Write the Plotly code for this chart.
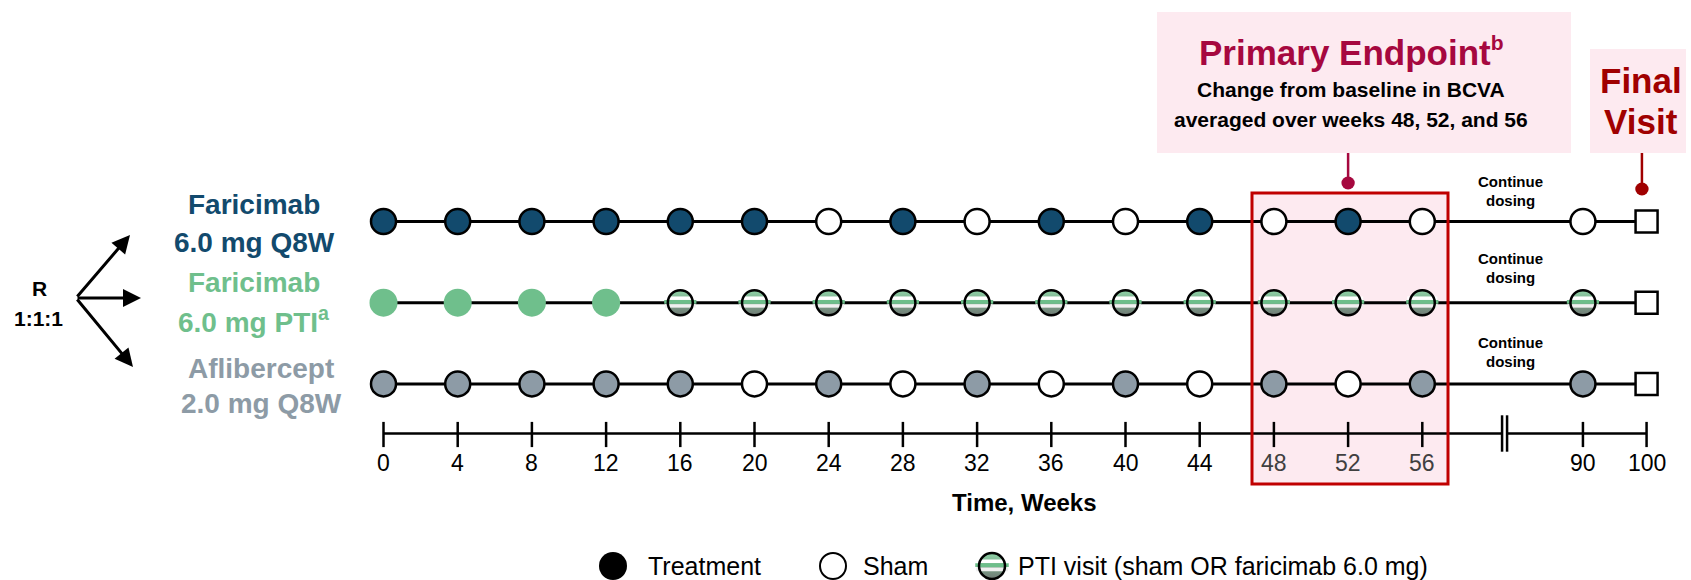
import plotly.graph_objects as go

# ---------------- data ----------------
VISIT_WEEKS = [0, 4, 8, 12, 16, 20, 24, 28, 32, 36, 40, 44, 48, 52, 56, 90]
FINAL_WEEK = 100
TICK_WEEKS = [0, 4, 8, 12, 16, 20, 24, 28, 32, 36, 40, 44, 48, 52, 56, 90, 100]
ENDPOINT_WEEKS = [48, 52, 56]

# visit type at each week: T = treatment, S = sham, P = PTI visit
ARM_Q8W = ["T", "T", "T", "T", "T", "T", "S", "T", "S", "T", "S", "T", "S", "T", "S", "S"]
ARM_PTI = ["T", "T", "T", "T", "P", "P", "P", "P", "P", "P", "P", "P", "P", "P", "P", "P"]
ARM_AFL = ["T", "T", "T", "T", "T", "S", "T", "S", "T", "S", "T", "S", "T", "S", "T", "T"]

ARM_LINE1 = ["Faricimab", "Faricimab", "Aflibercept"]
ARM_LINE2 = ["6.0 mg Q8W", "6.0 mg PTI<sup>a</sup>", "2.0 mg Q8W"]
LEGEND_LABELS = ["Treatment", "Sham", "PTI visit (sham OR faricimab 6.0 mg)"]

# ---------------- layout constants ----------------
W, H = 1691, 580
FONT = "Liberation Sans, Arial, sans-serif"
PX_PER_WEEK = 18.55
X0_PX = 383.5
ROW_PX = 81.2
ROW0_PX = 221.5
BREAK_POS = (60.3, 60.57)

ARM_COLORS = ["#124A6D", "#6FBF8C", "#8D9BA6"]
ARM_BORDER = [True, False, True]
PINK = "#FDEAF0"
BOX_RED = "#C00000"
ENDPOINT_RED = "#A6083F"
FINAL_RED = "#A00000"


def axis_pos(week):
    """Horizontal position of a week; weeks after the axis break are compressed."""
    if week <= 56:
        return week
    return 64.66 + (week - 90) * 0.343


def xpx(px):
    return (px - X0_PX) / PX_PER_WEEK


def ypx(py):
    return (py - ROW0_PX) / ROW_PX


def xp(px):
    return px / W


def yp(py):
    return 1 - py / H


fig = go.Figure()


def add_pti(xs, ys, size=25):
    """Striped PTI visit ball: gradient base, stripes, then outline."""
    fig.add_trace(go.Scatter(
        x=xs, y=ys, mode="markers", hoverinfo="skip", showlegend=False,
        marker=dict(symbol="circle", size=size, color="#8ED3A6",
                    gradient=dict(type="vertical", color="#6F7A74"),
                    line=dict(color="black", width=0))))
    k = size / 25.0
    stripes = [(-4.5, 3.5, 21.5, "#FFFFFF"), (-0.8, 3.6, 23, "#6DBE8A"), (3.2, 3.5, 22, "#F0F0F0")]
    for off, thick, length, col in stripes:
        fig.add_trace(go.Scatter(
            x=xs, y=[y + ypx(ROW0_PX + off * k) for y in ys], mode="markers",
            hoverinfo="skip", showlegend=False,
            marker=dict(symbol="line-ew-open", size=length * k, color=col,
                        line=dict(width=thick * k))))
    fig.add_trace(go.Scatter(
        x=xs, y=ys, mode="markers", hoverinfo="skip", showlegend=False,
        marker=dict(symbol="circle-open", size=size, color="black", line=dict(width=2.5))))


# row lines, visits and final-visit squares
for r, visits in enumerate([ARM_Q8W, ARM_PTI, ARM_AFL]):
    fig.add_trace(go.Scatter(
        x=[axis_pos(0), axis_pos(FINAL_WEEK)], y=[r, r], mode="lines",
        line=dict(color="black", width=3), hoverinfo="skip", showlegend=False))
    for kind in ["T", "S"]:
        xs = [axis_pos(w) for w, v in zip(VISIT_WEEKS, visits) if v == kind]
        if not xs:
            continue
        if kind == "T":
            col = ARM_COLORS[r]
            border = 2.5 if ARM_BORDER[r] else 0
            size = 25 if ARM_BORDER[r] else 28
        else:
            col, border, size = "white", 2.5, 25
        fig.add_trace(go.Scatter(
            x=xs, y=[r] * len(xs), mode="markers", hoverinfo="skip", showlegend=False,
            marker=dict(symbol="circle", size=size, color=col,
                        line=dict(color="black", width=border))))
    pti_x = [axis_pos(w) for w, v in zip(VISIT_WEEKS, visits) if v == "P"]
    if pti_x:
        add_pti(pti_x, [r] * len(pti_x))
    fig.add_trace(go.Scatter(
        x=[axis_pos(FINAL_WEEK)], y=[r], mode="markers", hoverinfo="skip", showlegend=False,
        marker=dict(symbol="square", size=22, color="white", line=dict(color="black", width=2.5))))

# time axis with break
AXIS_Y = ypx(433.5)
fig.add_trace(go.Scatter(
    x=[axis_pos(0), BREAK_POS[0], None, BREAK_POS[1], axis_pos(100)],
    y=[AXIS_Y, AXIS_Y, None, AXIS_Y, AXIS_Y], mode="lines",
    line=dict(color="black", width=2.5), hoverinfo="skip", showlegend=False))
fig.add_trace(go.Scatter(
    x=[axis_pos(w) for w in TICK_WEEKS], y=[AXIS_Y + ypx(ROW0_PX + 1)] * len(TICK_WEEKS),
    mode="markers", hoverinfo="skip", showlegend=False,
    marker=dict(symbol="line-ns-open", size=18, color="black", line=dict(width=2.5))))
fig.add_trace(go.Scatter(
    x=list(BREAK_POS), y=[AXIS_Y, AXIS_Y], mode="markers", hoverinfo="skip", showlegend=False,
    marker=dict(symbol="line-ns-open", size=26, color="black", line=dict(width=2.5))))

annotations = []
for w in TICK_WEEKS:
    annotations.append(dict(
        x=axis_pos(w), y=ypx(463), xref="x", yref="y", text=str(w), showarrow=False,
        font=dict(family=FONT, size=23, color="#404040" if w in ENDPOINT_WEEKS else "black"),
        xanchor="center", yanchor="middle"))


def text(px, py, s, size, color="black", bold=False, xanchor="center"):
    annotations.append(dict(
        x=xp(px), y=yp(py), xref="paper", yref="paper",
        text=f"<b>{s}</b>" if bold else s, showarrow=False,
        font=dict(family=FONT, size=size, color=color),
        xanchor=xanchor, yanchor="middle"))


text(1024, 502, "Time, Weeks", 24, bold=True)

# arm labels
label_x = [254, 254, 261]
label_y = [(204, 242), (283, 320), (368, 403)]
for r in range(3):
    text(label_x[r], label_y[r][0], ARM_LINE1[r], 28, ARM_COLORS[r], bold=True)
    text(label_x[r], label_y[r][1], ARM_LINE2[r], 28, ARM_COLORS[r], bold=True)

# randomisation ratio and arrows
text(39, 288, "R", 21, bold=True)
text(38, 318, "1:1:1", 21, bold=True)
ARROW_TAIL = (76, 298)
for hx, hy in [(130, 235), (141, 298), (133, 367)]:
    annotations.append(dict(
        x=xp(hx), y=yp(hy), xref="paper", yref="paper",
        ax=ARROW_TAIL[0] - hx, ay=ARROW_TAIL[1] - hy, axref="pixel", ayref="pixel",
        showarrow=True, arrowhead=2, arrowsize=1.2, arrowwidth=3,
        arrowcolor="black", text=""))

# continue dosing notes
for c1, c2 in [(181, 200), (258, 277), (342, 361)]:
    text(1510, c1, "Continue", 15, bold=True)
    text(1510, c2, "dosing", 15, bold=True)

# primary endpoint panel
text(1351, 52, "Primary Endpoint<sup><span style='font-size:21px'>b</span></sup>", 35, ENDPOINT_RED, bold=True)
text(1351, 90, "Change from baseline in BCVA", 21, bold=True)
text(1351, 119, "averaged over weeks 48, 52, and 56", 21, bold=True)

# final visit panel
text(1641, 80, "Final", 35, FINAL_RED, bold=True)
text(1641, 122, "Visit", 35, FINAL_RED, bold=True)

# legend
LEG_Y = ypx(566)
fig.add_trace(go.Scatter(
    x=[xpx(613)], y=[LEG_Y], mode="markers", hoverinfo="skip", showlegend=False,
    marker=dict(symbol="circle", size=28, color="black", line=dict(width=0))))
fig.add_trace(go.Scatter(
    x=[xpx(833)], y=[LEG_Y], mode="markers", hoverinfo="skip", showlegend=False,
    marker=dict(symbol="circle", size=26, color="white", line=dict(color="black", width=2))))
add_pti([xpx(992)], [LEG_Y], size=26)
for px, lab in zip([646, 861, 1016], LEGEND_LABELS):
    text(px, 566, lab, 25, xanchor="left")

shapes = [
    # primary endpoint box
    dict(type="rect", xref="paper", yref="paper", x0=xp(1157), x1=xp(1571), y0=yp(12), y1=yp(153),
         fillcolor=PINK, line=dict(width=0), layer="below"),
    # final visit box
    dict(type="rect", xref="paper", yref="paper", x0=xp(1590), x1=xp(1686), y0=yp(49), y1=yp(153),
         fillcolor=PINK, line=dict(width=0), layer="below"),
    # endpoint window fill and outline
    dict(type="rect", xref="x", yref="y", x0=xpx(1252), x1=xpx(1448), y0=ypx(193), y1=ypx(484),
         fillcolor=PINK, line=dict(width=0), layer="below"),
    dict(type="rect", xref="x", yref="y", x0=xpx(1252), x1=xpx(1448), y0=ypx(193), y1=ypx(484),
         fillcolor="rgba(0,0,0,0)", line=dict(color=BOX_RED, width=3), layer="above"),
    # connectors
    dict(type="line", xref="x", yref="paper", x0=axis_pos(52), x1=axis_pos(52), y0=yp(153), y1=yp(183),
         line=dict(color=ENDPOINT_RED, width=2.5)),
    dict(type="circle", xref="x", yref="paper", x0=axis_pos(52) - 0.36, x1=axis_pos(52) + 0.36,
         y0=yp(176.5), y1=yp(189.5), fillcolor=ENDPOINT_RED, line=dict(width=0)),
    dict(type="line", xref="x", yref="paper", x0=axis_pos(100) - 0.25, x1=axis_pos(100) - 0.25,
         y0=yp(153), y1=yp(189), line=dict(color=FINAL_RED, width=2.5)),
    dict(type="circle", xref="x", yref="paper", x0=axis_pos(100) - 0.61, x1=axis_pos(100) + 0.11,
         y0=yp(182.5), y1=yp(195.5), fillcolor=FINAL_RED, line=dict(width=0)),
]

fig.update_layout(
    width=W, height=H, margin=dict(l=0, r=0, t=0, b=0),
    paper_bgcolor="white", plot_bgcolor="white", showlegend=False,
    xaxis=dict(range=[-X0_PX / PX_PER_WEEK, (W - X0_PX) / PX_PER_WEEK], visible=False, fixedrange=True),
    yaxis=dict(range=[(H - ROW0_PX) / ROW_PX, -ROW0_PX / ROW_PX], visible=False, fixedrange=True),
    annotations=annotations, shapes=shapes,
)

fig.write_html("out.html")
